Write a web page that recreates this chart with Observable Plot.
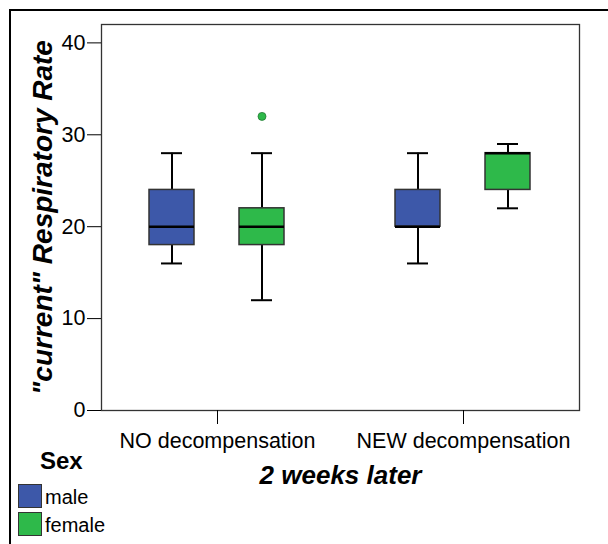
<!DOCTYPE html>
<html>
<head>
<meta charset="utf-8">
<script src="https://cdn.jsdelivr.net/npm/d3@7"></script>
<script src="https://cdn.jsdelivr.net/npm/@observablehq/plot@0.6"></script>
<style>
  html, body { margin: 0; padding: 0; background: #fff; }
  #wrap { position: relative; width: 608px; height: 544px; overflow: hidden; font-family: "Liberation Sans", Arial, sans-serif; }
  #border { position: absolute; left: 9px; top: 9px; width: 700px; height: 700px; border-top: 2.5px solid #000; border-left: 2.5px solid #000; }
  #chart { position: absolute; left: 0; top: 0; }
  #chart g[aria-label="y-axis label"] { font-weight: bold; font-style: italic; font-size: 28px; }
  #chart g[aria-label="fx-axis label"] { font-weight: bold; font-style: italic; font-size: 26px; }
  #legend { position: absolute; left: 0; top: 0; }
  .lg-title { position: absolute; left: 40px; top: 447px; font: bold 24px "Liberation Sans", Arial, sans-serif; line-height: 28px; }
  .lg-sw { position: absolute; left: 18px; width: 22px; height: 22px; border: 1px solid #333; }
  .lg-lab { position: absolute; left: 45px; font: 20px "Liberation Sans", Arial, sans-serif; line-height: 24px; }
</style>
</head>
<body>
<div id="wrap">
  <div id="border"></div>
  <div id="chart"></div>
  <div id="legend"></div>
</div>
<script>
// categories
const groups = ["NO decompensation", "NEW decompensation"];
const sexes = ["male", "female"];
const sexColors = ["#3d58a9", "#2eb94a"];
// box statistics, order: NO-male, NO-female, NEW-male, NEW-female
const lowWhisker  = [16, 12, 16, 22];
const q1Values    = [18, 18, 20, 24];
const medianValues= [20, 20, 20, 28];
const q3Values    = [24, 22, 24, 28];
const highWhisker = [28, 28, 28, 29];
// outliers
const outlierGroups = ["NO decompensation"];
const outlierSexes = ["female"];
const outlierValues = [32];
// axis ticks
const yTicks = [0, 10, 20, 30, 40];

const rows = groups.flatMap((g, i) => sexes.map((s, j) => {
  const k = i * sexes.length + j;
  return {group: g, sex: s, low: lowWhisker[k], q1: q1Values[k], median: medianValues[k], q3: q3Values[k], high: highWhisker[k]};
}));
const outliers = outlierValues.map((v, i) => ({group: outlierGroups[i], sex: outlierSexes[i], value: v}));

const chart = Plot.plot({
  width: 608,
  height: 520,
  marginTop: 24,
  marginBottom: 110,
  marginLeft: 101,
  marginRight: 29,
  style: {fontFamily: "'Liberation Sans', Arial, sans-serif", fontSize: "21.5px", color: "#000", background: "transparent"},
  fx: {domain: groups, paddingInner: 0.057, paddingOuter: 0, label: null},
  x: {domain: sexes, paddingInner: 0.4945, paddingOuter: 0.522, axis: null},
  y: {domain: [0, 42]},
  color: {domain: sexes, range: sexColors},
  marks: [
    Plot.ruleX(rows, {fx: "group", x: "sex", y1: "low", y2: "q1", stroke: "#000", strokeWidth: 2}),
    Plot.ruleX(rows, {fx: "group", x: "sex", y1: "q3", y2: "high", stroke: "#000", strokeWidth: 2}),
    Plot.tickY(rows, {fx: "group", x: "sex", y: "low", insetLeft: 12, insetRight: 12, stroke: "#000", strokeWidth: 2}),
    Plot.tickY(rows, {fx: "group", x: "sex", y: "high", insetLeft: 12, insetRight: 12, stroke: "#000", strokeWidth: 2}),
    Plot.barY(rows, {fx: "group", x: "sex", y1: "q1", y2: "q3", fill: "sex", stroke: "#333", strokeWidth: 1.5}),
    Plot.tickY(rows, {fx: "group", x: "sex", y: "median", stroke: "#000", strokeWidth: 2.5}),
    Plot.dot(outliers, {fx: "group", x: "sex", y: "value", fill: "sex", stroke: "#237a35", strokeWidth: 0.8, r: 4}),
    Plot.frame({facet: "super", stroke: "#333", strokeWidth: 1.3}),
    Plot.axisY({ticks: yTicks, tickSize: 14, tickPadding: 2, label: "\"current\" Respiratory Rate", labelAnchor: "center", labelOffset: 69, labelArrow: "none"}),
    Plot.axisFx({anchor: "bottom", tickSize: 14, tickPadding: 8, label: "2 weeks later", labelAnchor: "center", labelOffset: 73, labelArrow: "none"})
  ]
});
document.getElementById("chart").appendChild(chart);

// legend
const legend = document.getElementById("legend");
const t = document.createElement("div");
t.className = "lg-title"; t.textContent = "Sex";
legend.appendChild(t);
sexes.forEach((s, i) => {
  const sw = document.createElement("div");
  sw.className = "lg-sw";
  sw.style.top = (484 + i * 28) + "px";
  sw.style.background = sexColors[i];
  legend.appendChild(sw);
  const lab = document.createElement("div");
  lab.className = "lg-lab";
  lab.style.top = (485 + i * 28) + "px";
  lab.textContent = s;
  legend.appendChild(lab);
});
</script>
</body>
</html>
